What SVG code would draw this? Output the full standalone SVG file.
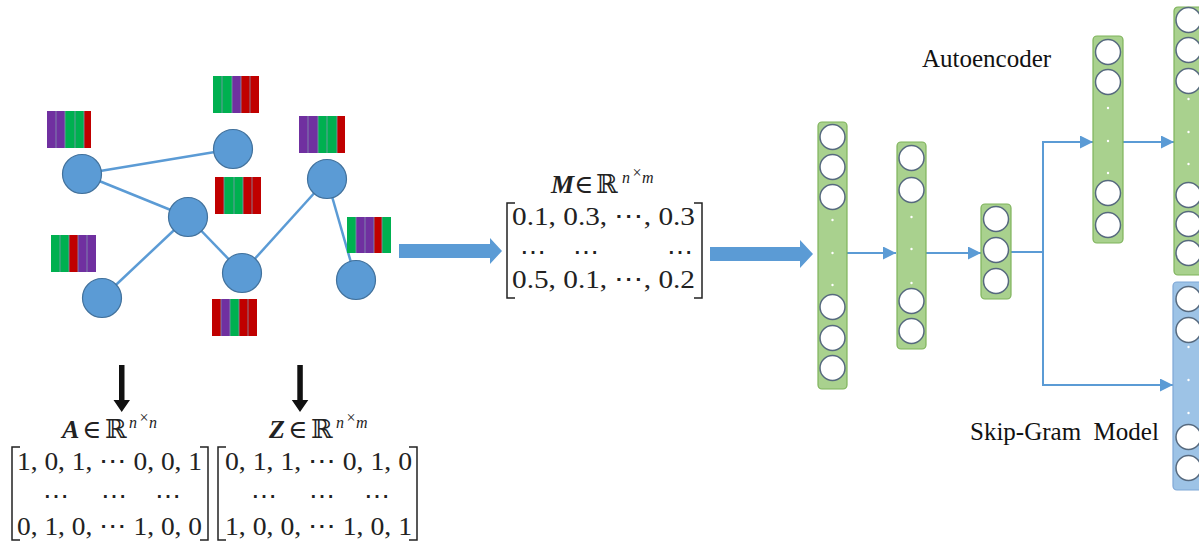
<svg xmlns="http://www.w3.org/2000/svg" width="1199" height="546" viewBox="0 0 1199 546">
<style>
.edge{stroke:#5B9BD5;stroke-width:2.5;fill:none}
.gnode{fill:#5B9BD5;stroke:#41719C;stroke-width:1.2}
.G{fill:#00B050}.P{fill:#7030A0}.R{fill:#C00000}
.sep{fill:none;stroke:#8497B0;stroke-width:0.8}
.lg{fill:#A9D18E;stroke:#7FB35B;stroke-width:1.2}
.lb{fill:#9DC3E6;stroke:#7FA7D6;stroke-width:1.2}
.neu{fill:#fff;stroke:#56697E;stroke-width:1.5}
.dot{fill:#fff}
.conn{stroke:#5B9BD5;stroke-width:2;fill:none}
.math{font-family:"Liberation Serif","DejaVu Serif",serif;font-size:26px;fill:#222}
.num{font-family:"Liberation Serif","DejaVu Serif",serif;font-size:26px;fill:#222}
.sup{font-family:"Liberation Serif","DejaVu Serif",serif;font-size:16px;font-style:italic;fill:#222}
.lbl{font-family:"Liberation Serif","DejaVu Serif",serif;font-size:25px;fill:#111}
.brk{fill:none;stroke:#222;stroke-width:1.5}
.big{fill:#5B9BD5}
</style>
<defs>
<marker id="ah" markerUnits="userSpaceOnUse" markerWidth="14" markerHeight="14" refX="13" refY="6.5" orient="auto">
<path d="M0,0 L13,6.5 L0,13 Z" fill="#5B9BD5"/>
</marker>
</defs>
<rect width="1199" height="546" fill="#fff"/>

<g id="graph-edges">
<line class="edge" x1="82" y1="174" x2="233" y2="149"/>
<line class="edge" x1="82" y1="174" x2="188" y2="217"/>
<line class="edge" x1="188" y1="217" x2="102" y2="298"/>
<line class="edge" x1="188" y1="217" x2="242" y2="273"/>
<line class="edge" x1="242" y1="273" x2="327" y2="179"/>
<line class="edge" x1="327" y1="179" x2="356" y2="280"/>
</g>
<g id="graph-nodes">
<circle id="n1" class="gnode" cx="82" cy="174" r="19.5"/>
<circle id="n2" class="gnode" cx="233" cy="149" r="19.5"/>
<circle id="n3" class="gnode" cx="188" cy="217" r="19.5"/>
<circle id="n4" class="gnode" cx="102" cy="298" r="19.5"/>
<circle id="n5" class="gnode" cx="242" cy="273" r="19.5"/>
<circle id="n6" class="gnode" cx="327" cy="179" r="19.5"/>
<circle id="n7" class="gnode" cx="356" cy="280" r="19.5"/>
</g>

<g id="bar1">
<rect class="P" x="47" y="111" width="9" height="37"/><rect class="P" x="56" y="111" width="9" height="37"/><rect class="G" x="65" y="111" width="10" height="37"/><rect class="G" x="75" y="111" width="9" height="37"/><rect class="R" x="84" y="111" width="7" height="37"/>
<path class="sep" d="M56,111V148M65,111V148M75,111V148M84,111V148"/>
</g>
<g id="bar2">
<rect class="G" x="213" y="76" width="9" height="37"/><rect class="G" x="222" y="76" width="10" height="37"/><rect class="P" x="232" y="76" width="9" height="37"/><rect class="R" x="241" y="76" width="9" height="37"/><rect class="R" x="250" y="76" width="9" height="37"/>
<path class="sep" d="M222,76V113M232,76V113M241,76V113M250,76V113"/>
</g>
<g id="bar3">
<rect class="R" x="215" y="177" width="9" height="37"/><rect class="G" x="224" y="177" width="10" height="37"/><rect class="G" x="234" y="177" width="9" height="37"/><rect class="R" x="243" y="177" width="9" height="37"/><rect class="R" x="252" y="177" width="9" height="37"/>
<path class="sep" d="M224,177V214M234,177V214M243,177V214M252,177V214"/>
</g>
<g id="bar4">
<rect class="G" x="51" y="235" width="9" height="37"/><rect class="G" x="60" y="235" width="9" height="37"/><rect class="R" x="69" y="235" width="9" height="37"/><rect class="P" x="78" y="235" width="9" height="37"/><rect class="P" x="87" y="235" width="9" height="37"/>
<path class="sep" d="M60,235V272M69,235V272M78,235V272M87,235V272"/>
</g>
<g id="bar5">
<rect class="R" x="212" y="299" width="9" height="37"/><rect class="P" x="221" y="299" width="9" height="37"/><rect class="G" x="230" y="299" width="9" height="37"/><rect class="R" x="239" y="299" width="9" height="37"/><rect class="R" x="248" y="299" width="9" height="37"/>
<path class="sep" d="M221,299V336M230,299V336M239,299V336M248,299V336"/>
</g>
<g id="bar6">
<rect class="P" x="299" y="116" width="9" height="37"/><rect class="P" x="308" y="116" width="10" height="37"/><rect class="G" x="318" y="116" width="9" height="37"/><rect class="G" x="327" y="116" width="10" height="37"/><rect class="R" x="337" y="116" width="8" height="37"/>
<path class="sep" d="M308,116V153M318,116V153M327,116V153M337,116V153"/>
</g>
<g id="bar7">
<rect class="G" x="347" y="217" width="9" height="36"/><rect class="P" x="356" y="217" width="9" height="36"/><rect class="P" x="365" y="217" width="9" height="36"/><rect class="R" x="374" y="217" width="8" height="36"/><rect class="G" x="382" y="217" width="9" height="36"/>
<path class="sep" d="M356,217V253M365,217V253M374,217V253M382,217V253"/>
</g>

<g id="arrows-big">
<path class="big" d="M399,244 H490 V238 L502,251 L490,264 V258 H399 Z"/>
<path class="big" d="M710,247 H800 V240 L813,254 L800,268 V261 H710 Z"/>
<path fill="#111" d="M119,365 H124.5 V400 H130 L121.7,412 L113.5,400 H119 Z"/>
<path fill="#111" d="M297.3,365 H302.8 V400 H308.3 L300,412 L291.8,400 H297.3 Z"/>
</g>

<g id="matrix-A">
<text class="math" x="62" y="438" font-weight="bold" font-style="italic">A</text>
<text class="math" x="82" y="438">∈</text>
<text class="math" x="105" y="438">ℝ</text>
<text class="sup" x="129" y="428">n</text>
<text class="sup" x="138.5" y="423" font-size="12" font-style="normal">×</text>
<text class="sup" x="149" y="428">n</text>
<path class="brk" d="M20,447 H12 V540 H20"/>
<path class="brk" d="M200,447 H208 V540 H200"/>
<text class="num" x="17" y="470" textLength="185" lengthAdjust="spacingAndGlyphs">1, 0, 1, ⋯ 0, 0, 1</text>
<text class="num" x="56" y="505" text-anchor="middle">⋯</text>
<text class="num" x="114" y="505" text-anchor="middle">⋯</text>
<text class="num" x="168" y="505" text-anchor="middle">⋯</text>
<text class="num" x="17" y="535" textLength="185" lengthAdjust="spacingAndGlyphs">0, 1, 0, ⋯ 1, 0, 0</text>
</g>

<g id="matrix-Z">
<text class="math" x="269" y="438" font-weight="bold" font-style="italic">Z</text>
<text class="math" x="288" y="438">∈</text>
<text class="math" x="311" y="438">ℝ</text>
<text class="sup" x="336" y="428">n</text>
<text class="sup" x="345.5" y="423" font-size="12" font-style="normal">×</text>
<text class="sup" x="356" y="428">m</text>
<path class="brk" d="M226,447 H218 V540 H226"/>
<path class="brk" d="M409,447 H417 V540 H409"/>
<text class="num" x="225" y="470" textLength="187" lengthAdjust="spacingAndGlyphs">0, 1, 1, ⋯ 0, 1, 0</text>
<text class="num" x="264" y="505" text-anchor="middle">⋯</text>
<text class="num" x="322" y="505" text-anchor="middle">⋯</text>
<text class="num" x="377" y="505" text-anchor="middle">⋯</text>
<text class="num" x="225" y="535" textLength="187" lengthAdjust="spacingAndGlyphs">1, 0, 0, ⋯ 1, 0, 1</text>
</g>

<g id="matrix-M">
<text class="math" x="551" y="193" font-weight="bold" font-style="italic">M</text>
<text class="math" x="574" y="193">∈</text>
<text class="math" x="596" y="193">ℝ</text>
<text class="sup" x="622" y="183">n</text>
<text class="sup" x="631.5" y="178" font-size="12" font-style="normal">×</text>
<text class="sup" x="642" y="183">m</text>
<path class="brk" d="M515,203 H507 V298 H515"/>
<path class="brk" d="M694,203 H702 V298 H694"/>
<text class="num" x="512" y="225" textLength="183" lengthAdjust="spacingAndGlyphs">0.1, 0.3, ⋯, 0.3</text>
<text class="num" x="533" y="261" text-anchor="middle">⋯</text>
<text class="num" x="586" y="261" text-anchor="middle">⋯</text>
<text class="num" x="680" y="261" text-anchor="middle">⋯</text>
<text class="num" x="512" y="288" textLength="183" lengthAdjust="spacingAndGlyphs">0.5, 0.1, ⋯, 0.2</text>
</g>

<g id="connectors">
<line class="conn" x1="847" y1="253" x2="896" y2="253" marker-end="url(#ah)"/>
<line class="conn" x1="926" y1="253" x2="981" y2="253" marker-end="url(#ah)"/>
<path class="conn" d="M1011,252 H1043 M1043,141 V386"/>
<path class="conn" d="M1042,142 H1093" marker-end="url(#ah)"/>
<path class="conn" d="M1042,385 H1173" marker-end="url(#ah)"/>
<line class="conn" x1="1123" y1="142" x2="1174" y2="142" marker-end="url(#ah)"/>
</g>

<g id="layer1">
<rect class="lg" x="818" y="122" width="29" height="267" rx="4"/>
<circle class="neu" cx="832.5" cy="137" r="12.5"/><circle class="neu" cx="832.5" cy="167" r="12.5"/><circle class="neu" cx="832.5" cy="197" r="12.5"/>
<circle class="dot" cx="832.5" cy="220" r="1.2"/><circle class="dot" cx="832.5" cy="253" r="1.2"/><circle class="dot" cx="832.5" cy="285" r="1.2"/>
<circle class="neu" cx="832.5" cy="307" r="12.5"/><circle class="neu" cx="832.5" cy="338" r="12.5"/><circle class="neu" cx="832.5" cy="368" r="12.5"/>
</g>
<g id="layer2">
<rect class="lg" x="897" y="142" width="29" height="207" rx="4"/>
<circle class="neu" cx="911.5" cy="158" r="12.5"/><circle class="neu" cx="911.5" cy="190" r="12.5"/>
<circle class="dot" cx="911.5" cy="217" r="1.2"/><circle class="dot" cx="911.5" cy="249" r="1.2"/><circle class="dot" cx="911.5" cy="283" r="1.2"/>
<circle class="neu" cx="911.5" cy="301" r="12.5"/><circle class="neu" cx="911.5" cy="331" r="12.5"/>
</g>
<g id="layer3">
<rect class="lg" x="981" y="204" width="30" height="95" rx="4"/>
<circle class="neu" cx="996" cy="219" r="12.5"/><circle class="neu" cx="996" cy="250" r="12.5"/><circle class="neu" cx="996" cy="281" r="12.5"/>
</g>
<g id="layer4">
<rect class="lg" x="1093" y="36" width="30" height="207" rx="4"/>
<circle class="neu" cx="1108" cy="52" r="12.5"/><circle class="neu" cx="1108" cy="82" r="12.5"/>
<circle class="dot" cx="1108" cy="108" r="1.2"/><circle class="dot" cx="1108" cy="141" r="1.2"/><circle class="dot" cx="1108" cy="173" r="1.2"/>
<circle class="neu" cx="1108" cy="193" r="12.5"/><circle class="neu" cx="1108" cy="225" r="12.5"/>
</g>
<g id="layer5">
<rect class="lg" x="1174" y="7" width="40" height="268" rx="4"/>
<circle class="neu" cx="1188.5" cy="20" r="12.5"/><circle class="neu" cx="1188.5" cy="50" r="12.5"/><circle class="neu" cx="1188.5" cy="81" r="12.5"/>
<circle class="dot" cx="1188.5" cy="99" r="1.2"/><circle class="dot" cx="1188.5" cy="132" r="1.2"/><circle class="dot" cx="1188.5" cy="164" r="1.2"/>
<circle class="neu" cx="1188.5" cy="195" r="12.5"/><circle class="neu" cx="1188.5" cy="224" r="12.5"/><circle class="neu" cx="1188.5" cy="253" r="12.5"/>
</g>
<g id="layer6">
<rect class="lb" x="1173" y="282" width="40" height="208" rx="4"/>
<circle class="neu" cx="1188.5" cy="299" r="12.5"/><circle class="neu" cx="1188.5" cy="330" r="12.5"/>
<circle class="dot" cx="1188.5" cy="347" r="1.2"/><circle class="dot" cx="1188.5" cy="380" r="1.2"/><circle class="dot" cx="1188.5" cy="413" r="1.2"/>
<circle class="neu" cx="1188.5" cy="437" r="12.5"/><circle class="neu" cx="1188.5" cy="468" r="12.5"/>
</g>

<g id="labels">
<text class="lbl" x="922" y="67">Autoencoder</text>
<text class="lbl" x="970" y="440" xml:space="preserve">Skip-Gram  Model</text>
</g>
</svg>
